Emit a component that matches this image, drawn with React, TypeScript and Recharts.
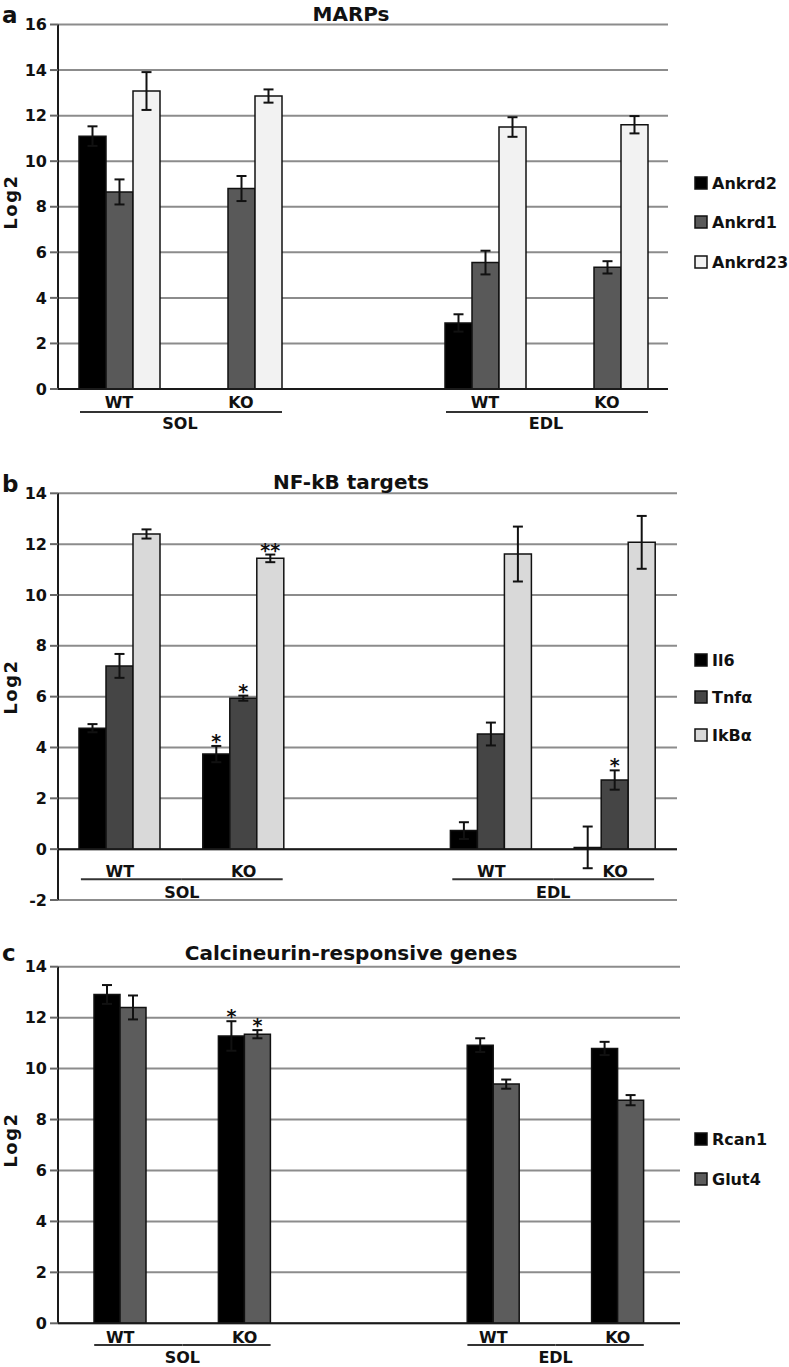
import React from 'react';
import { BarChart, Bar, XAxis, YAxis, CartesianGrid, ErrorBar, LabelList, ReferenceLine } from 'recharts';

// ---------- data ----------
const categories = ['SOL WT', 'SOL KO', 'gap', 'EDL WT', 'EDL KO'];
const conditionLabels = ['WT', 'KO', '', 'WT', 'KO'];
const tissueLabels = ['SOL', '', '', 'EDL', ''];

// Panel a: MARPs
const ankrd2 = [11.1, null, null, 2.9, null];
const ankrd2Err = [0.43, null, null, 0.38, null];
const ankrd1 = [8.65, 8.8, null, 5.55, 5.34];
const ankrd1Err = [0.55, 0.55, null, 0.52, 0.27];
const ankrd23 = [13.08, 12.86, null, 11.5, 11.6];
const ankrd23Err = [0.83, 0.29, null, 0.43, 0.38];

// Panel b: NF-kB targets
const il6 = [4.76, 3.74, null, 0.73, 0.07];
const il6Err = [0.16, 0.32, null, 0.33, 0.82];
const il6Stars = ['', '*', '', '', ''];
const tnfa = [7.21, 5.94, null, 4.53, 2.72];
const tnfaErr = [0.47, 0.1, null, 0.45, 0.38];
const tnfaStars = ['', '*', '', '', '*'];
const ikba = [12.4, 11.44, null, 11.61, 12.07];
const ikbaErr = [0.18, 0.15, null, 1.08, 1.04];
const ikbaStars = ['', '**', '', '', ''];

// Panel c: Calcineurin-responsive genes
const rcan1 = [12.91, 11.28, null, 10.92, 10.79];
const rcan1Err = [0.37, 0.58, null, 0.27, 0.26];
const rcan1Stars = ['', '*', '', '', ''];
const glut4 = [12.4, 11.35, null, 9.39, 8.76];
const glut4Err = [0.47, 0.16, null, 0.18, 0.2];
const glut4Stars = ['', '*', '', '', ''];

const ticksA = [0, 2, 4, 6, 8, 10, 12, 14, 16];
const ticksB = [-2, 0, 2, 4, 6, 8, 10, 12, 14];
const ticksC = [0, 2, 4, 6, 8, 10, 12, 14];

// ---------- styling ----------
const FONT = '"DejaVu Sans", "Liberation Sans", Arial, sans-serif';
const W = 789;
const Y_W = 58;
const GRID = '#8c8c8c';
const AXIS = '#1a1a1a';
const INK = '#111';

type Series = {
  key: string;
  name: string;
  values: (number | null)[];
  errs: (number | null)[];
  stars?: string[];
  fill: string;
};

type PanelCfg = {
  top: number;
  height: number;
  margin: { top: number; right: number; left: number; bottom: number };
  xAxisHeight: number;
  domain: [number, number];
  ticks: number[];
  barSize: number;
  series: Series[];
  zeroLine: boolean;
  dy: { cond: number; line: number; group: number };
  ul: [number, number];
  title: string;
  titleY: number;
  letter: string;
  letterY: number;
  logY: number;
  legendYs: number[];
};

function CatTick(props: any) {
  const { x, y, index, cfg, step } = props;
  const i = index;
  const out: any[] = [];
  const lab = conditionLabels[i];
  if (lab) {
    out.push(
      <text key="c" x={x} y={y + cfg.dy.cond} textAnchor="middle" fontFamily={FONT} fontWeight="bold" fontSize={16} fill={INK}>
        {lab}
      </text>
    );
  }
  if (tissueLabels[i]) {
    out.push(<line key="l" x1={x - cfg.ul[0]} x2={x + step / 2} y1={y + cfg.dy.line} y2={y + cfg.dy.line} stroke="#333" strokeWidth={2} />);
    out.push(
      <text key="g" x={x + step / 2} y={y + cfg.dy.group} textAnchor="middle" fontFamily={FONT} fontWeight="bold" fontSize={16} fill={INK}>
        {tissueLabels[i]}
      </text>
    );
  } else if (lab) {
    out.push(<line key="l2" x1={x - step / 2} x2={x + cfg.ul[1]} y1={y + cfg.dy.line} y2={y + cfg.dy.line} stroke="#333" strokeWidth={2} />);
  }
  return <g>{out}</g>;
}

function StarLabel({ p, stars, errs, values }: any) {
  const v0 = Number(p.value);
  const i = values.indexOf(v0);
  if (i < 0) return null;
  const s = stars[i];
  if (!s) return null;
  const vb = p.viewBox || p;
  const x = vb.x ?? p.x;
  const y = vb.y ?? p.y;
  const w = vb.width ?? p.width;
  const h = Math.abs(vb.height ?? p.height);
  const v = Math.abs(v0);
  const e = errs[i] ?? 0;
  const errTop = y - (v ? (e * h) / v : 0);
  return (
    <text x={x + w / 2} y={errTop + 2} textAnchor="middle" fontFamily={FONT} fontWeight="bold" fontSize={19} fill={INK}>
      {s}
    </text>
  );
}

function Panel({ cfg }: { cfg: PanelCfg }) {
  const data = categories.map((cat, i) => {
    const row: any = { cat };
    cfg.series.forEach((s) => {
      row[s.key] = s.values[i];
      row[s.key + 'Err'] = s.errs[i];
    });
    return row;
  });
  const plotW = W - cfg.margin.left - Y_W - cfg.margin.right;
  const step = plotW / categories.length;
  const T = cfg.top;
  return (
    <div style={{ position: 'absolute', left: 0, top: T, width: W, height: cfg.height }}>
      <BarChart width={W} height={cfg.height} data={data} margin={cfg.margin} barGap={0} barSize={cfg.barSize}>
        <CartesianGrid vertical={false} stroke={GRID} strokeWidth={2} />
        <XAxis
          dataKey="cat"
          interval={0}
          height={cfg.xAxisHeight}
          tickSize={0}
          tickMargin={0}
          tickLine={false}
          axisLine={cfg.zeroLine ? false : { stroke: AXIS, strokeWidth: 2 }}
          tick={(p: any) => <CatTick {...p} cfg={cfg} step={step} />}
        />
        <YAxis
          width={Y_W}
          domain={cfg.domain}
          ticks={cfg.ticks}
          interval={0}
          allowDataOverflow
          axisLine={{ stroke: AXIS, strokeWidth: 2 }}
          tickLine={{ stroke: '#666', strokeWidth: 2 }}
          tickSize={8}
          tickMargin={3}
          tick={{ fill: INK, fontSize: 16, fontWeight: 'bold', fontFamily: FONT }}
        />
        {cfg.zeroLine && <ReferenceLine y={0} stroke={AXIS} strokeWidth={2} />}
        {cfg.series.map((s) => (
          <Bar key={s.key} dataKey={s.key} name={s.name} fill={s.fill} stroke={INK} strokeWidth={1.5} isAnimationActive={false}>
            <ErrorBar dataKey={s.key + 'Err'} width={5} stroke={INK} strokeWidth={2} direction="y" />
            {s.stars && (
              <LabelList
                dataKey={s.key}
                content={(p: any) => <StarLabel p={p} stars={s.stars} errs={s.errs} values={s.values} />}
              />
            )}
          </Bar>
        ))}
      </BarChart>
      <svg width={W} height={cfg.height} style={{ position: 'absolute', left: 0, top: 0, pointerEvents: 'none' }}>
        <text x={2} y={cfg.letterY - T} fontFamily={FONT} fontWeight="bold" fontSize={23} fill={INK}>
          {cfg.letter}
        </text>
        <text x={351} y={cfg.titleY - T} textAnchor="middle" fontFamily={FONT} fontWeight="bold" fontSize={20} fill={INK}>
          {cfg.title}
        </text>
        <text
          x={0}
          y={0}
          transform={`translate(17, ${cfg.logY - T}) rotate(-90)`}
          textAnchor="middle"
          fontFamily={FONT}
          fontWeight="bold"
          fontSize={18}
          letterSpacing={1.5}
          fill={INK}
        >
          Log2
        </text>
        {cfg.series.map((s, k) => (
          <g key={s.key}>
            <rect x={695} y={cfg.legendYs[k] - T - 6} width={12} height={12} fill={s.fill} stroke={INK} strokeWidth={1.5} />
            <text x={712} y={cfg.legendYs[k] - T + 6} fontFamily={FONT} fontWeight="bold" fontSize={16} fill={INK}>
              {s.name}
            </text>
          </g>
        ))}
      </svg>
    </div>
  );
}

const panelA: PanelCfg = {
  top: 0,
  height: 455,
  margin: { top: 24.5, right: 121, left: 0, bottom: 0 },
  xAxisHeight: 66,
  domain: [0, 16],
  ticks: ticksA,
  barSize: 27,
  series: [
    { key: 'ankrd2', name: 'Ankrd2', values: ankrd2, errs: ankrd2Err, fill: '#000000' },
    { key: 'ankrd1', name: 'Ankrd1', values: ankrd1, errs: ankrd1Err, fill: '#595959' },
    { key: 'ankrd23', name: 'Ankrd23', values: ankrd23, errs: ankrd23Err, fill: '#f2f2f2' },
  ],
  zeroLine: false,
  dy: { cond: 19, line: 23, group: 40 },
  ul: [39, 41],
  title: 'MARPs',
  titleY: 21,
  letter: 'a',
  letterY: 23,
  logY: 202,
  legendYs: [183, 222, 262],
};

const panelB: PanelCfg = {
  top: 455,
  height: 455,
  margin: { top: 38.3, right: 112, left: 0, bottom: 0 },
  xAxisHeight: 10,
  domain: [-2, 14],
  ticks: ticksB,
  barSize: 27,
  series: [
    { key: 'il6', name: 'Il6', values: il6, errs: il6Err, stars: il6Stars, fill: '#000000' },
    { key: 'tnfa', name: 'Tnfα', values: tnfa, errs: tnfaErr, stars: tnfaStars, fill: '#454545' },
    { key: 'ikba', name: 'IkBα', values: ikba, errs: ikbaErr, stars: ikbaStars, fill: '#d9d9d9' },
  ],
  zeroLine: true,
  dy: { cond: -23.3, line: -20.7, group: -1.7 },
  ul: [39, 39],
  title: 'NF-kB targets',
  titleY: 489,
  letter: 'b',
  letterY: 492,
  logY: 687,
  legendYs: [660, 697, 735],
};

const panelC: PanelCfg = {
  top: 910,
  height: 457,
  margin: { top: 56.7, right: 109, left: 0, bottom: 0 },
  xAxisHeight: 43.7,
  domain: [0, 14],
  ticks: ticksC,
  barSize: 26,
  series: [
    { key: 'rcan1', name: 'Rcan1', values: rcan1, errs: rcan1Err, stars: rcan1Stars, fill: '#000000' },
    { key: 'glut4', name: 'Glut4', values: glut4, errs: glut4Err, stars: glut4Stars, fill: '#5c5c5c' },
  ],
  zeroLine: false,
  dy: { cond: 19.4, line: 21.7, group: 39.5 },
  ul: [26, 26],
  title: 'Calcineurin-responsive genes',
  titleY: 960,
  letter: 'c',
  letterY: 961,
  logY: 1140,
  legendYs: [1139, 1179],
};

export default function App() {
  return (
    <div style={{ position: 'absolute', left: 0, top: 0, width: W, height: 1367, background: '#fff', overflow: 'hidden' }}>
      <Panel cfg={panelA} />
      <Panel cfg={panelB} />
      <Panel cfg={panelC} />
    </div>
  );
}
